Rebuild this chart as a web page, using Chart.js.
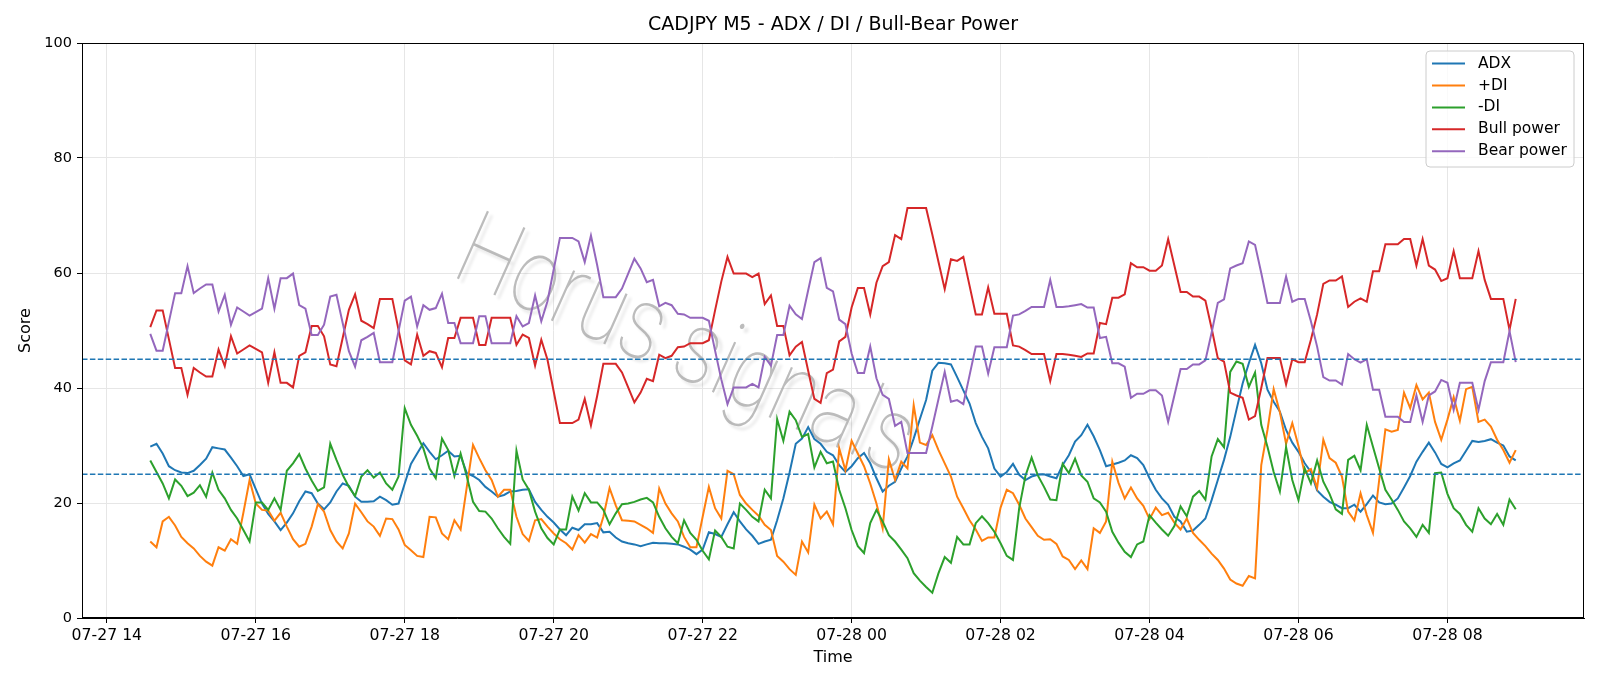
<!DOCTYPE html>
<html><head><meta charset="utf-8">
<script src="https://cdn.jsdelivr.net/npm/chart.js@4.4.1/dist/chart.umd.min.js"></script>
<style>html,body{margin:0;padding:0;background:#fff}canvas{display:block}</style>
</head><body>
<canvas id="c" width="1600" height="686"></canvas>
<script>
// ---- data (5-minute bars, 07-27 14:35 .. 07-28 08:55) ----
const startMinute = 875;   // minutes after 07-27 00:00 -> 14:35
const stepMinutes = 5;

const adx = [
29.8,30.3,28.6,26.4,25.7,25.3,25.2,25.6,26.6,27.7,
29.7,29.5,29.3,27.9,26.4,24.7,25.0,22.4,19.9,18.1,
16.8,15.3,16.6,18.2,20.3,22.0,21.7,19.9,18.9,20.1,
22.0,23.4,23.0,21.1,20.2,20.2,20.3,21.1,20.5,19.7,
19.9,23.4,26.8,28.6,30.4,28.9,27.6,28.3,29.1,28.1,
28.2,25.2,24.7,24.0,22.8,22.0,21.1,21.4,22.0,22.1,
22.3,22.4,20.2,18.8,17.6,16.6,15.4,14.4,15.7,15.3,
16.3,16.3,16.5,14.9,15.0,14.0,13.3,13.0,12.8,12.5,
12.8,13.1,13.0,13.0,12.9,12.8,12.4,11.9,11.1,11.9,
14.9,14.6,14.1,16.3,18.4,16.8,15.4,14.3,12.9,13.3,
13.6,17.0,20.8,25.3,30.3,31.2,33.2,31.1,30.3,28.9,
28.3,26.6,25.4,26.4,27.8,28.7,26.9,24.3,22.0,23.0,
23.7,26.0,28.1,31.2,34.6,37.9,43.0,44.4,44.3,44.1,
41.9,39.6,37.3,33.9,31.5,29.5,26.0,24.6,25.4,26.8,
24.9,24.0,24.6,24.9,25.0,24.6,24.3,26.6,28.3,30.7,
31.8,33.6,31.6,29.2,26.4,26.7,27.0,27.4,28.3,27.8,
26.6,24.3,22.3,20.8,19.7,17.6,16.8,15.0,15.2,16.2,
17.3,20.5,24.0,27.5,31.5,36.2,40.8,44.3,47.5,44.3,
39.7,37.6,35.9,32.7,30.5,28.9,26.9,25.4,22.2,21.1,
20.2,19.7,19.1,19.1,19.7,18.5,19.8,21.3,20.1,19.8,
19.9,20.8,22.7,24.7,27.2,28.9,30.5,28.8,26.8,26.2,
26.9,27.4,29.1,30.8,30.6,30.8,31.1,30.5,30.0,28.1,
27.4];

const plusDI = [
13.3,12.3,16.8,17.6,16.1,14.1,13.0,12.1,10.8,9.8,
9.1,12.3,11.7,13.7,12.9,18.3,24.0,19.9,18.8,18.7,
16.9,18.3,15.9,13.7,12.4,12.9,15.9,19.8,18.5,15.3,
13.3,12.1,14.7,19.9,18.4,16.8,15.9,14.3,17.3,17.2,
15.4,12.7,11.8,10.8,10.6,17.6,17.5,14.7,13.7,17.0,
15.4,22.8,30.1,27.8,25.7,24.0,21.1,22.3,22.3,17.6,
14.6,13.4,17.0,17.2,15.9,14.7,13.7,13.0,11.9,14.4,
13.1,14.6,14.0,17.6,22.6,19.6,17.0,16.9,16.8,16.2,
15.6,14.8,22.5,19.9,18.2,16.8,14.1,12.3,12.3,17.6,
22.8,19.1,17.3,25.6,25.0,21.4,19.9,18.8,17.8,16.2,
15.3,10.8,9.8,8.5,7.5,13.3,11.4,19.7,17.3,18.5,
16.3,29.5,25.7,30.8,28.6,26.4,23.4,19.9,15.6,27.6,
24.0,27.2,26.0,37.0,30.5,30.1,31.8,29.2,26.9,24.6,
21.1,19.1,17.0,15.4,13.4,14.0,14.0,19.2,22.3,21.7,
19.7,17.3,15.8,14.3,13.6,13.7,12.9,10.7,10.1,8.5,
10.0,8.5,15.6,14.8,16.8,27.2,23.5,20.8,22.7,20.8,
19.5,17.2,19.2,17.9,18.3,16.6,15.4,17.3,14.8,13.6,
12.5,11.2,10.1,8.6,6.7,6.0,5.6,7.3,6.9,26.6,
32.7,39.8,35.8,30.3,33.9,29.9,25.2,25.9,22.6,31.0,
27.8,27.0,24.6,18.5,17.0,21.7,17.9,14.8,24.0,32.8,
32.4,32.7,39.2,36.5,40.5,38.0,39.2,34.1,31.0,34.5,
38.4,34.3,39.8,40.2,34.1,34.5,33.3,31.0,29.2,27.0,
29.2];

const minusDI = [
27.4,25.4,23.4,20.8,24.1,23.0,21.2,21.8,23.1,21.1,
25.3,22.3,20.8,18.8,17.3,15.3,13.3,20.1,20.1,18.8,
20.8,18.8,25.6,26.9,28.5,26.0,23.9,22.1,22.7,30.3,
27.5,24.9,22.8,21.2,24.6,25.7,24.4,25.3,23.4,22.3,
24.6,36.5,33.6,31.7,29.5,26.0,24.3,31.2,29.2,24.7,
28.6,24.6,20.2,18.6,18.5,17.3,15.6,14.1,12.9,29.1,
24.1,22.3,18.5,15.6,13.9,12.8,15.4,15.4,21.1,18.7,
21.7,20.1,20.1,18.8,16.3,18.2,19.8,19.9,20.2,20.6,
20.9,20.1,17.6,15.6,14.1,13.0,17.0,14.8,13.6,11.7,
10.2,15.2,14.1,12.4,12.1,19.9,18.8,17.6,16.8,22.3,
20.8,34.6,30.8,35.9,34.4,31.5,32.0,26.2,28.9,26.9,
27.2,22.3,19.1,15.3,12.5,11.3,16.5,18.8,16.8,14.4,
13.3,11.9,10.4,7.8,6.5,5.4,4.4,7.8,10.6,9.6,
14.1,12.8,12.8,16.5,17.7,16.5,15.0,13.0,10.8,10.1,
19.1,24.7,27.9,24.8,22.8,20.6,20.5,26.8,25.2,27.7,
24.8,23.7,20.8,20.1,18.5,15.0,13.1,11.5,10.6,12.8,
13.3,17.9,16.6,15.4,14.3,16.0,19.4,17.7,21.1,22.1,
20.6,28.1,31.1,29.7,42.8,44.6,44.2,40.2,42.7,33.6,
29.8,25.4,22.0,29.7,24.0,20.5,26.0,23.4,27.4,23.7,
21.6,18.9,18.1,27.5,28.2,25.7,33.6,29.8,26.0,22.3,
20.6,18.8,16.8,15.6,14.1,16.2,14.8,25.2,25.3,21.6,
19.1,18.1,16.2,15.0,19.1,17.3,16.3,18.1,16.2,20.6,
18.9];

const bullPower = [
50.6,53.5,53.5,48.5,43.5,43.5,38.8,43.5,42.7,42.0,
42.0,46.7,43.8,49.0,46.0,46.7,47.4,46.8,46.2,40.9,
46.2,40.9,40.9,40.1,45.6,46.2,50.8,50.8,49.0,44.1,
43.8,48.7,53.6,56.3,51.7,51.1,50.4,55.5,55.5,55.5,
50.1,44.8,44.1,49.3,45.6,46.4,46.1,43.6,48.7,48.7,
52.2,52.2,52.2,47.5,47.5,52.2,52.2,52.2,52.2,47.5,
49.3,48.7,43.9,48.4,44.9,39.4,33.9,33.9,33.9,34.5,
38.1,33.5,38.6,44.2,44.2,44.2,42.7,40.1,37.5,39.2,
41.6,41.2,45.8,45.2,45.6,47.1,47.2,47.8,47.8,47.8,
48.3,53.5,58.5,62.8,59.9,59.9,59.9,59.3,59.9,54.6,
56.1,50.8,50.8,45.7,47.2,48.0,43.0,38.1,37.4,42.6,
43.2,48.1,48.9,54.0,57.4,57.4,52.8,58.3,61.2,61.9,
66.6,65.9,71.3,71.3,71.3,71.3,66.7,61.9,57.2,62.4,
62.1,62.8,57.8,52.8,52.8,57.5,52.9,52.9,52.9,47.4,
47.2,46.6,45.9,45.9,45.9,41.2,45.9,45.9,45.8,45.6,
45.4,46.0,46.0,51.3,51.1,55.7,55.7,56.3,61.7,61.0,
61.0,60.4,60.4,61.3,65.9,61.3,56.7,56.7,55.9,55.9,
55.2,50.4,45.2,44.6,39.2,38.7,38.3,34.5,35.1,40.0,
45.2,45.2,45.2,40.6,45.0,44.5,44.5,48.4,52.8,58.1,
58.7,58.7,59.4,54.1,55.0,55.6,55.0,60.3,60.3,65.0,
65.0,65.0,65.9,65.9,61.3,65.9,61.3,60.6,58.6,59.1,
63.8,59.1,59.1,59.1,63.8,58.8,55.5,55.5,55.5,50.1,
55.5];

const bearPower = [
49.4,46.5,46.5,51.5,56.5,56.5,61.2,56.5,57.3,58.0,
58.0,53.3,56.2,51.0,54.0,53.3,52.6,53.2,53.8,59.1,
53.8,59.1,59.1,59.9,54.4,53.8,49.2,49.2,51.0,55.9,
56.2,51.3,46.4,43.7,48.3,48.9,49.6,44.5,44.5,44.5,
49.9,55.2,55.9,50.7,54.4,53.6,53.9,56.4,51.3,51.3,
47.8,47.8,47.8,52.5,52.5,47.8,47.8,47.8,47.8,52.5,
50.7,51.3,56.1,51.6,55.1,60.6,66.1,66.1,66.1,65.5,
61.9,66.5,61.4,55.8,55.8,55.8,57.3,59.9,62.5,60.8,
58.4,58.8,54.2,54.8,54.4,52.9,52.8,52.2,52.2,52.2,
51.7,46.5,41.5,37.2,40.1,40.1,40.1,40.7,40.1,45.4,
43.9,49.2,49.2,54.3,52.8,52.0,57.0,61.9,62.6,57.4,
56.8,51.9,51.1,46.0,42.6,42.6,47.2,41.7,38.8,38.1,
33.4,34.1,28.7,28.7,28.7,28.7,33.3,38.1,42.8,37.6,
37.9,37.2,42.2,47.2,47.2,42.5,47.1,47.1,47.1,52.6,
52.8,53.4,54.1,54.1,54.1,58.8,54.1,54.1,54.2,54.4,
54.6,54.0,54.0,48.7,48.9,44.3,44.3,43.7,38.3,39.0,
39.0,39.6,39.6,38.7,34.1,38.7,43.3,43.3,44.1,44.1,
44.8,49.6,54.8,55.4,60.8,61.3,61.7,65.5,64.9,60.0,
54.8,54.8,54.8,59.4,55.0,55.5,55.5,51.6,47.2,41.9,
41.3,41.3,40.6,45.9,45.0,44.4,45.0,39.7,39.7,35.0,
35.0,35.0,34.1,34.1,38.7,34.1,38.7,39.4,41.4,40.9,
36.2,40.9,40.9,40.9,36.2,41.2,44.5,44.5,44.5,49.9,
44.5];

const seriesNames = ['ADX', '+DI', '-DI', 'Bull power', 'Bear power'];
const tickMinutes = [840, 960, 1080, 1200, 1320, 1440, 1560, 1680, 1800, 1920];
const tickLabels = ['07-27 14', '07-27 16', '07-27 18', '07-27 20', '07-27 22',
                    '07-28 00', '07-28 02', '07-28 04', '07-28 06', '07-28 08'];
const thresholds = [45, 25];
const xRange = [820, 2030];
const titleText = 'CADJPY M5 - ADX / DI / Bull-Bear Power';
const watermarkText = 'Horus signals';

// ---- chart ----
const FONT = "'DejaVu Sans', 'Liberation Sans', sans-serif";
const COLORS = ['#1f77b4', '#ff7f0e', '#2ca02c', '#d62728', '#9467bd'];
const seriesValues = [adx, plusDI, minusDI, bullPower, bearPower];
const times = adx.map((_, i) => startMinute + i * stepMinutes);

const datasets = seriesValues.map((vals, k) => ({
  label: seriesNames[k],
  data: vals.map((v, i) => ({ x: times[i], y: v })),
  borderColor: COLORS[k],
  backgroundColor: COLORS[k],
  borderWidth: 2,
  pointRadius: 0,
  tension: 0,
  fill: false,
  order: 5 - k
}));

const watermarkPlugin = {
  id: 'watermark',
  beforeDatasetsDraw(chart) {
    const ctx = chart.ctx;
    ctx.save();
    ctx.translate(684, 351);
    ctx.rotate(24 * Math.PI / 180);
    ctx.font = `100 104px Roboto, Lato, ${FONT}`;
    const w = ctx.measureText(watermarkText).width;
    ctx.scale(490 / w, 1);
    ctx.textAlign = 'center';
    ctx.textBaseline = 'middle';
    ctx.shadowColor = 'rgba(0,0,0,0.13)';
    ctx.shadowOffsetX = 4; ctx.shadowOffsetY = 4; ctx.shadowBlur = 3;
    ctx.fillStyle = 'rgba(165,165,165,0.75)';
    ctx.fillText(watermarkText, 0, 0);
    ctx.restore();
  }
};

const overlayPlugin = {
  id: 'overlay',
  afterDatasetsDraw(chart) {
    const ctx = chart.ctx, a = chart.chartArea, ys = chart.scales.y;
    ctx.save();
    ctx.beginPath(); ctx.rect(a.left, a.top, a.right - a.left, a.bottom - a.top); ctx.clip();
    ctx.strokeStyle = '#1f77b4';
    ctx.lineWidth = 1.5;
    ctx.setLineDash([5.5, 2.4]);
    thresholds.forEach(t => {
      const py = ys.getPixelForValue(t);
      ctx.beginPath(); ctx.moveTo(a.left, py); ctx.lineTo(a.right, py); ctx.stroke();
    });
    ctx.restore();
  },
  afterDraw(chart) {
    const ctx = chart.ctx, a = chart.chartArea;
    ctx.save();
    // frame
    ctx.strokeStyle = '#000'; ctx.lineWidth = 1;
    ctx.strokeRect(Math.round(a.left) + 0.5, Math.round(a.top) + 0.5,
                   Math.round(a.right - a.left) - 1, Math.round(a.bottom - a.top) - 1);
    // legend
    const bx = a.right - 158, by = a.top + 8, bw = 148, bh = 116, r = 4;
    ctx.beginPath();
    ctx.moveTo(bx + r, by); ctx.lineTo(bx + bw - r, by); ctx.quadraticCurveTo(bx + bw, by, bx + bw, by + r);
    ctx.lineTo(bx + bw, by + bh - r); ctx.quadraticCurveTo(bx + bw, by + bh, bx + bw - r, by + bh);
    ctx.lineTo(bx + r, by + bh); ctx.quadraticCurveTo(bx, by + bh, bx, by + bh - r);
    ctx.lineTo(bx, by + r); ctx.quadraticCurveTo(bx, by, bx + r, by);
    ctx.closePath();
    ctx.fillStyle = 'rgba(255,255,255,0.8)'; ctx.fill();
    ctx.strokeStyle = '#cccccc'; ctx.lineWidth = 1; ctx.stroke();
    ctx.font = `15.5px ${FONT}`;
    ctx.textAlign = 'left'; ctx.textBaseline = 'middle';
    seriesNames.forEach((name, k) => {
      const yy = by + 12.6 + k * 21.9;
      ctx.strokeStyle = COLORS[k]; ctx.lineWidth = 2;
      ctx.beginPath(); ctx.moveTo(bx + 6, yy); ctx.lineTo(bx + 39, yy); ctx.stroke();
      ctx.fillStyle = '#000';
      ctx.fillText(name, bx + 52, yy);
    });
    ctx.restore();
  }
};

new Chart(document.getElementById('c'), {
  type: 'line',
  data: { datasets },
  plugins: [watermarkPlugin, overlayPlugin],
  options: {
    responsive: false,
    animation: false,
    devicePixelRatio: 1,
    layout: { padding: { left: 0, right: 16, top: 0, bottom: 0 } },
    plugins: {
      legend: { display: false },
      tooltip: { enabled: false },
      title: {
        display: true, text: titleText, color: '#000', fullSize: false,
        font: { family: FONT, size: 19, weight: 'normal' },
        padding: { top: 14, bottom: 6.2 }
      }
    },
    scales: {
      x: {
        type: 'linear', min: xRange[0], max: xRange[1],
        afterBuildTicks: (s) => { s.ticks = tickMinutes.map(v => ({ value: v })); },
        afterFit: (s) => { s.height = 68; },
        ticks: {
          autoSkip: false, maxRotation: 0, color: '#000', padding: 4,
          font: { family: FONT, size: 15.7 },
          callback: (v) => { const k = tickMinutes.indexOf(v); return k >= 0 ? tickLabels[k] : ''; }
        },
        grid: { color: '#e6e6e6', lineWidth: 1, tickColor: '#000', tickLength: 5, tickWidth: 1 },
        border: { display: true, color: '#000', width: 1 },
        title: { display: true, text: 'Time', color: '#000', font: { family: FONT, size: 16 }, padding: { top: 0, bottom: 18.5 } }
      },
      y: {
        min: 0, max: 100,
        afterFit: (s) => { s.width = 82; },
        ticks: { stepSize: 20, color: '#000', padding: 5, font: { family: FONT, size: 14.5 } },
        grid: { color: '#e6e6e6', lineWidth: 1, tickColor: '#000', tickLength: 5, tickWidth: 1 },
        border: { display: true, color: '#000', width: 1 },
        title: { display: true, text: 'Score', color: '#000', font: { family: FONT, size: 16 }, padding: { top: 15.9, bottom: 0 } }
      }
    }
  }
});
</script>
</body></html>
